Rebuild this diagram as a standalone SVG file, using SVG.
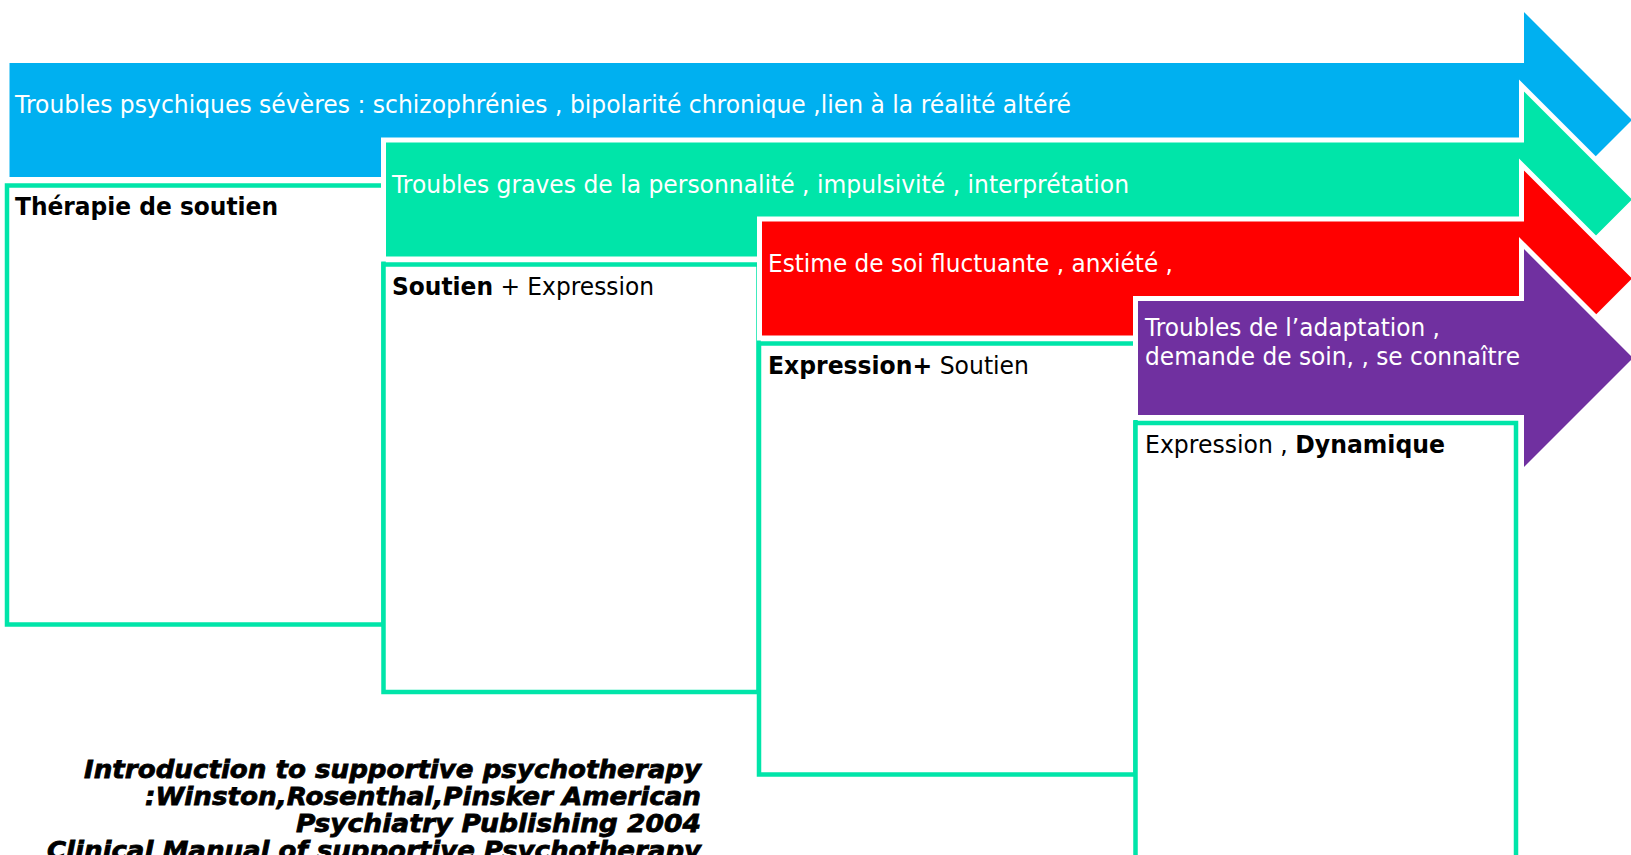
<svg xmlns="http://www.w3.org/2000/svg" width="1631" height="855" viewBox="0 0 1631 855">
<style>
.arrow{stroke:#FFFFFF;stroke-width:5;stroke-linejoin:miter}
.box{fill:#FFFFFF;stroke:#00E5A9;stroke-width:4.5}
.t{font-family:"DejaVu Sans","Liberation Sans",sans-serif;font-size:24.5px;fill:#FFFFFF}
.bt{font-family:"DejaVu Sans","Liberation Sans",sans-serif;font-size:24.5px;fill:#000000}
.b{font-weight:bold}
.cite{font-family:"DejaVu Sans","Liberation Sans",sans-serif;font-size:25px;font-weight:bold;font-style:italic;fill:#000000;stroke:#000000;stroke-width:0.8}
</style>
<rect x="0" y="0" width="1631" height="855" fill="#FFFFFF"/>
<g id="arrow-blue">
<polygon class="arrow" fill="#00B0F0" points="7,60.5 1521.5,60.5 1521.5,6 1635.5,120 1521.5,234 1521.5,179.5 7,179.5"/>
<text class="t" x="15" y="113" textLength="1056" lengthAdjust="spacingAndGlyphs">Troubles psychiques sévères : schizophrénies , bipolarité chronique ,lien à la réalité altéré</text>
</g>
<g id="box-1">
<rect class="box" x="7" y="185.5" width="376.5" height="439"/>
<text class="bt b" x="15" y="215" textLength="263" lengthAdjust="spacingAndGlyphs">Thérapie de soutien</text>
</g>
<g id="arrow-green">
<polygon class="arrow" fill="#00E5A9" points="383.5,140 1521.5,140 1521.5,85.5 1635.5,199.5 1521.5,313.5 1521.5,259 383.5,259"/>
<text class="t" x="392" y="192.5" textLength="737" lengthAdjust="spacingAndGlyphs">Troubles graves de la personnalité , impulsivité , interprétation</text>
</g>
<g id="box-2">
<rect class="box" x="383.5" y="264.5" width="375" height="427.5"/>
<text class="bt" x="392" y="295" textLength="262" lengthAdjust="spacingAndGlyphs"><tspan class="b">Soutien</tspan> + Expression</text>
</g>
<g id="arrow-red">
<polygon class="arrow" fill="#FF0000" points="759.5,219 1521.5,219 1521.5,164.5 1635.5,278.5 1521.5,392.5 1521.5,338 759.5,338"/>
<text class="t" x="768" y="272" textLength="405" lengthAdjust="spacingAndGlyphs">Estime de soi fluctuante , anxiété ,</text>
</g>
<g id="box-3">
<rect class="box" x="759" y="343.5" width="376.5" height="431"/>
<text class="bt" x="768" y="374" textLength="261" lengthAdjust="spacingAndGlyphs"><tspan class="b">Expression+</tspan> Soutien</text>
</g>
<g id="arrow-purple">
<polygon class="arrow" fill="#7030A0" points="1135.5,298.5 1521.5,298.5 1521.5,243 1636.5,358 1521.5,473 1521.5,417.5 1135.5,417.5"/>
<text class="t" x="1145" y="336" textLength="295" lengthAdjust="spacingAndGlyphs">Troubles de l’adaptation ,</text>
<text class="t" x="1145" y="365" textLength="375" lengthAdjust="spacingAndGlyphs">demande de soin, , se connaître</text>
</g>
<g id="box-4">
<rect class="box" x="1135.5" y="423" width="380.5" height="480"/>
<text class="bt" x="1145" y="453" textLength="300" lengthAdjust="spacingAndGlyphs">Expression , <tspan class="b">Dynamique</tspan></text>
</g>
<g id="connectors"/>
<g id="citation">
<text class="cite" x="701" y="778" text-anchor="end" textLength="617" lengthAdjust="spacingAndGlyphs">Introduction to supportive psychotherapy</text>
<text class="cite" x="701" y="805" text-anchor="end" textLength="556" lengthAdjust="spacingAndGlyphs">:Winston,Rosenthal,Pinsker American</text>
<text class="cite" x="701" y="832" text-anchor="end" textLength="405" lengthAdjust="spacingAndGlyphs">Psychiatry Publishing 2004</text>
<text class="cite" x="701" y="859" text-anchor="end" textLength="654" lengthAdjust="spacingAndGlyphs">Clinical Manual of supportive Psychotherapy</text>
</g>
</svg>
